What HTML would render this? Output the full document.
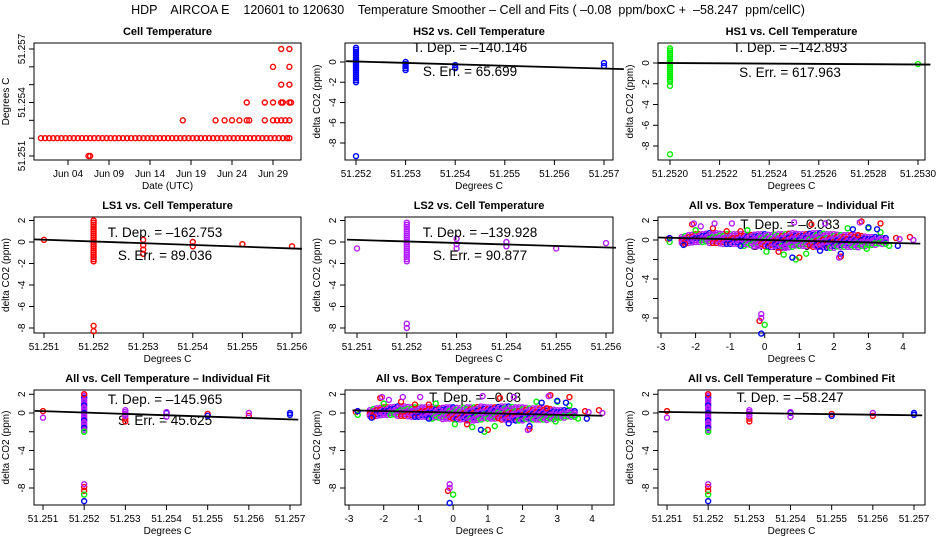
<!DOCTYPE html>
<html><head><meta charset="utf-8"><style>
body{margin:0;background:#fff}
svg{display:block;font-family:"Liberation Sans",sans-serif}
#mt{white-space:pre}
</style></head><body>
<svg id="c" width="936" height="540" viewBox="0 0 936 540">
<rect width="936" height="540" fill="#fff"/>
<text id="mt" x="468" y="14" font-size="12.5" text-anchor="middle" xml:space="preserve">HDP    AIRCOA E    120601 to 120630    Temperature Smoother – Cell and Fits ( –0.08  ppm/boxC +  –58.247  ppm/cellC)</text>
</svg>
<script>
// ---- Panel 1: Cell Temperature ----
const p1BaseDays=[0.7,1.2,1.7,2.2,2.7,3.2,3.7,4.2,4.7,5.2,5.7,6.2,6.7,7.2,7.7,8.2,8.7,9.2,9.7,10.2,10.7,11.2,11.7,12.2,12.7,13.2,13.7,14.2,14.7,15.2,15.7,16.2,16.7,17.2,17.7,18.2,18.7,19.2,19.7,20.2,20.7,21.2,21.7,22.2,22.7,23.2,23.7,24.2,24.7,25.2,25.7,26.2,26.7,27.2,27.7,28.2,28.7,29.2,29.7,30.2,30.7,31.0];
const p1BaseTemp=51.252;
const p1Days=[6.5,6.7,18.0,22.0,23.1,24.0,24.9,25.8,26.1,28.0,29.0,29.5,30.0,30.5,31.0,25.8,28.0,29.0,30.0,30.2,31.0,31.2,30.0,31.0,29.0,31.0,30.0,31.0];
const p1Temp=[51.251,51.251,51.253,51.253,51.253,51.253,51.253,51.253,51.253,51.253,51.253,51.253,51.253,51.253,51.253,51.254,51.254,51.254,51.254,51.254,51.254,51.254,51.255,51.255,51.256,51.256,51.257,51.257];
const p1XTicks=[4,9,14,19,24,29];
const p1XLabels=["Jun 04","Jun 09","Jun 14","Jun 19","Jun 24","Jun 29"];
const colY=[2.0,1.8,1.6,1.4,1.2,1.0,0.8,0.6,0.4,0.2,0,-0.2,-0.4,-0.6,-0.8,-1.0,-1.2,-1.4,-1.6,-1.8];
// ---- HS2 ----
const hs2X=[51.252,51.252,51.252,51.253,51.253,51.253,51.253,51.253,51.254,51.254,51.257,51.257];
const hs2Y=[-1.8,-2.0,-9.3,0,-0.2,-0.4,-0.6,-0.8,-0.3,-0.6,-0.1,-0.4];
const hs2ColX=51.252, hs2ColTop=1.5, hs2Slope=-140.146, hs2Int=0.05;
// ---- HS1 ----
const hs1X=[51.252,51.252,51.253];
const hs1Y=[-2.2,-8.8,-0.1];
const hs1ColX=51.252, hs1ColTop=1.5, hs1Slope=-142.893, hs1Int=0.0;
// ---- LS1 ----
const ls1X=[51.251,51.252,51.252,51.253,51.253,51.253,51.253,51.254,51.254,51.255,51.256];
const ls1Y=[0.2,-7.8,-8.3,0.2,-0.3,-0.7,-1.1,0,-0.4,-0.2,-0.4];
const ls1ColX=51.252, ls1ColTop=2.0, ls1Slope=-162.753, ls1Int=0.05;
// ---- LS2 ----
const ls2X=[51.251,51.252,51.252,51.253,51.253,51.253,51.254,51.254,51.255,51.256];
const ls2Y=[-0.6,-7.6,-8.0,0.3,-0.2,-0.6,0,-0.4,-0.6,-0.1];
const ls2ColX=51.252, ls2ColTop=1.8, ls2Slope=-139.928, ls2Int=0.05;
// ---- Box temperature cloud ----
const bandX=[-2.4,-2.2,-2.0,-1.8,-1.6,-1.4,-1.2,-1.0,-0.8,-0.6,-0.4,-0.2,0,0.2,0.4,0.6,0.8,1.0,1.2,1.4,1.6,1.8,2.0,2.2,2.4,2.6,2.8,3.0,3.2,3.4];
const bandHi=[0.3,0.5,0.6,0.6,0.7,0.7,0.6,0.6,0.6,0.6,0.5,0.6,0.6,0.5,0.6,0.6,0.7,0.6,0.6,0.7,0.7,0.6,0.6,0.5,0.5,0.5,0.4,0.3,0.3,0.2];
const bandLo=[-0.3,-0.3,-0.2,-0.3,-0.3,-0.3,-0.4,-0.4,-0.5,-0.6,-0.6,-0.7,-0.7,-0.8,-0.8,-0.8,-0.7,-0.7,-0.7,-0.7,-0.8,-0.8,-0.8,-0.7,-0.7,-0.8,-0.7,-0.6,-0.5,-0.4];
const boxRedX=[-2.1,-1.5,-0.7,1.35,2.2,2.8,3.35,4.2,-0.15,1.0,0.4,-2.8,-2.3,3.8,2.7,-1.1];
const boxRedY=[1.6,1.2,0.9,1.6,-1.7,1.9,1.7,0.3,-8.3,-1.8,-1.2,0.1,-0.4,0.2,0.5,0.9];
const boxGreenX=[-2.0,-0.5,0.9,2.4,3.0,3.35,3.6,-2.75,0.0,0.55,2.95,0.05,1.2];
const boxGreenY=[1.0,1.0,-2.0,1.2,1.2,0.8,-0.6,-0.2,-8.7,-1.5,-0.9,-1.2,-1.4];
const boxBlueX=[-2.75,-2.35,0.8,2.2,2.55,3.0,3.25,3.85,-0.1,1.6,-0.7];
const boxBlueY=[0.2,-0.5,-1.8,-1.4,1.1,1.3,1.1,-0.6,-9.6,-1.1,-0.6];
const boxMagX=[-2.05,-1.45,-0.95,0.85,1.75,2.15,2.75,3.9,4.3,-0.1,-0.1,-1.85,-0.4];
const boxMagY=[1.7,1.7,1.7,1.8,1.7,-1.8,1.8,0.1,0,-7.6,-8.0,1.4,0.3];
const boxIndSlope=-0.083, boxCombSlope=-0.08;
// ---- All vs cell ----
const cellRedX=[51.251,51.252,51.252,51.252,51.253,51.253,51.255,51.256];
const cellRedY=[0.2,2.0,-7.9,-8.3,-0.9,-0.6,-0.1,-0.3];
const cellGreenX=[51.252,51.252];
const cellGreenY=[-2.0,-8.7];
const cellBlueX=[51.252,51.254,51.255,51.257,51.257];
const cellBlueY=[-9.4,0,-0.3,0,-0.2];
const cellMagX=[51.251,51.252,51.253,51.253,51.253,51.253,51.254,51.254,51.256];
const cellMagY=[-0.5,-7.6,0.3,0.1,-0.1,-0.3,0.1,-0.4,0];
const cellIndSlope=-145.965, cellCombSlope=-58.247;

const NS="http://www.w3.org/2000/svg";
const svg=document.getElementById('c');
const RED="#ff0000",GREEN="#00ee00",BLUE="#0000ff",MAG="#b41cff";
function mk(tag,attrs,parent){const e=document.createElementNS(NS,tag);for(const k in attrs)e.setAttribute(k,attrs[k]);(parent||svg).appendChild(e);return e;}
function lin(v1,p1,v2,p2){return v=>p1+(v-v1)*(p2-p1)/(v2-v1);}

function panel(o){
  const g=mk('g',{});
  
  
  const [x0,y0,x1,y1]=o.box;
  const sx=lin(...o.xs), sy=lin(...o.ys);
  const t=mk('text',{x:(x0+x1)/2,y:y0-8,'font-size':11,'font-weight':'bold','text-anchor':'middle'},g);
  t.textContent=o.title;
  
  
  const fr=mk('rect',{x:x0,y:y0,width:x1-x0,height:y1-y0,fill:'none',stroke:'#000','stroke-width':1},g);
  
  
  o.xticks.forEach((v,i)=>{const px=sx(v);
    const l=mk('line',{x1:px,x2:px,y1:y1,y2:y1+5,stroke:'#000'},g);
    
    
    const tx=mk('text',{x:px,y:y1+17,'font-size':10,'text-anchor':'middle'},g);tx.textContent=o.xlabels[i];
    
    });
  o.yticks.forEach((v,i)=>{const py=sy(v);
    const l=mk('line',{x1:x0-5,x2:x0,y1:py,y2:py,stroke:'#000'},g);
    
    
    if(o.ylabels[i]!==''){const tx=mk('text',{x:x0-9,y:py,'font-size':10,'text-anchor':'middle',transform:`rotate(-90 ${x0-9} ${py})`},g);tx.textContent=o.ylabels[i];
    
    }});
  const xl=mk('text',{x:(x0+x1)/2,y:y1+29,'font-size':10,'text-anchor':'middle'},g);xl.textContent=o.xlab;
  
  
  const yx=x0-25,yy=(y0+y1)/2;
  const yl=mk('text',{x:yx,y:yy,'font-size':10,'text-anchor':'middle',transform:`rotate(-90 ${yx} ${yy})`},g);yl.textContent=o.ylab;
  
  
  return {g,sx,sy};
}
function pt(P,x,y,c){const e=mk('circle',{cx:P.sx(x),cy:P.sy(y),r:2.5,fill:'none',stroke:c,'stroke-width':1.4},P.g);
  
  }
function pts(P,xs,ys,c){xs.forEach((x,i)=>pt(P,x,ys[i],c));}
function column(P,x,top,bottom,cols){colY.forEach((y,i)=>{if(y<=top&&y>=bottom)pt(P,x,y,cols[i%cols.length]);});}
function fit(P,xa,xb,x0,a,b){const e=mk('line',{x1:P.sx(xa),y1:P.sy(a+b*(xa-x0)),x2:P.sx(xb),y2:P.sy(a+b*(xb-x0)),stroke:'#000','stroke-width':1.8},P.g);
  
  }
function note(P,x,y,s){const e=mk('text',{x:x,y:y,'font-size':13.5,'text-anchor':'middle'},P.g);e.textContent=s;
  
  }
function band(P){
  const cols=[MAG,MAG,RED,MAG,BLUE,MAG,MAG,GREEN];
  bandX.forEach((x,i)=>{
    const nx=i<bandX.length-1?bandX[i+1]:x+0.2;
    const hi=i<bandX.length-1?(bandHi[i]+bandHi[i+1])/2:bandHi[i];
    const lo=i<bandX.length-1?(bandLo[i]+bandLo[i+1])/2:bandLo[i];
    let k=0;
    for(let y=bandHi[i];y>=bandLo[i]-1e-9;y-=0.2){pt(P,x,y,cols[(i+k)%cols.length]);k++;}
    for(let y=hi;y>=lo-1e-9;y-=0.2){pt(P,(x+nx)/2,y,cols[(i+k+3)%cols.length]);k++;}
  });
  pts(P,boxRedX,boxRedY,RED);pts(P,boxGreenX,boxGreenY,GREEN);pts(P,boxBlueX,boxBlueY,BLUE);pts(P,boxMagX,boxMagY,MAG);}

const cellTicks=[51.251,51.252,51.253,51.254,51.255,51.256,51.257];
const cellLabels=["51.251","51.252","51.253","51.254","51.255","51.256","51.257"];
const dY=[2,0,-2,-4,-6,-8], dYL=["2","0","","-4","","-8"];
const dY1=[0,-2,-4,-6,-8], dY1L=["0","-2","-4","-6","-8"];
const boxT=[-3,-2,-1,0,1,2,3,4], boxTL=["-3","-2","-1","0","1","2","3","4"];

let P=panel({name:'cell-temperature-panel',box:[34,43,301,160],xs:[4,68,29,273],ys:[51.251,156,51.257,49],
 xticks:p1XTicks,xlabels:p1XLabels,yticks:[51.251,51.252,51.253,51.254,51.255,51.256,51.257],ylabels:["51.251","","","51.254","","","51.257"],
 title:'Cell Temperature',xlab:'Date (UTC)',ylab:'Degrees C'});
p1BaseDays.forEach(d=>pt(P,d,p1BaseTemp,RED));
pts(P,p1Days,p1Temp,RED);

P=panel({name:'hs2-panel',box:[345,43,613,160],xs:[51.252,356,51.257,604],ys:[0,62,-8,143],
 xticks:[51.252,51.253,51.254,51.255,51.256,51.257],xlabels:["51.252","51.253","51.254","51.255","51.256","51.257"],yticks:dY1,ylabels:dY1L,
 title:'HS2 vs. Cell Temperature',xlab:'Degrees C',ylab:'delta CO2 (ppm)'});
column(P,hs2ColX,hs2ColTop,-1.6,[BLUE]);pts(P,hs2X,hs2Y,BLUE);
fit(P,51.2518,51.2574,51.252,hs2Int,hs2Slope);
note(P,470,52,'T. Dep. =  –140.146');note(P,470,76,'S. Err. =  65.699');

P=panel({name:'hs1-panel',box:[658,43,925,160],xs:[51.252,670,51.253,918],ys:[0,63,-8,146],
 xticks:[51.252,51.2522,51.2524,51.2526,51.2528,51.253],xlabels:["51.2520","51.2522","51.2524","51.2526","51.2528","51.2530"],yticks:dY1,ylabels:dY1L,
 title:'HS1 vs. Cell Temperature',xlab:'Degrees C',ylab:'delta CO2 (ppm)'});
column(P,hs1ColX,hs1ColTop,-1.8,[GREEN]);pts(P,hs1X,hs1Y,GREEN);
fit(P,51.25195,51.25305,51.252,hs1Int,hs1Slope);
note(P,790,52,'T. Dep. =  –142.893');note(P,790,77,'S. Err. =  617.963');

P=panel({name:'ls1-panel',box:[34,217,301,333],xs:[51.251,44,51.256,292],ys:[0,242,-8,328],
 xticks:[51.251,51.252,51.253,51.254,51.255,51.256],xlabels:["51.251","51.252","51.253","51.254","51.255","51.256"],yticks:dY,ylabels:["2","0","-2","-4","-6","-8"],
 title:'LS1 vs. Cell Temperature',xlab:'Degrees C',ylab:'delta CO2 (ppm)'});
column(P,ls1ColX,ls1ColTop,-1.8,[RED]);pts(P,ls1X,ls1Y,RED);
fit(P,51.2508,51.2562,51.252,ls1Int,ls1Slope);
note(P,165,237,'T. Dep. =  –162.753');note(P,165,260,'S. Err. =  89.036');

P=panel({name:'ls2-panel',box:[345,217,613,333],xs:[51.251,357,51.256,606],ys:[0,242,-8,328],
 xticks:[51.251,51.252,51.253,51.254,51.255,51.256],xlabels:["51.251","51.252","51.253","51.254","51.255","51.256"],yticks:dY,ylabels:["2","0","-2","-4","-6","-8"],
 title:'LS2 vs. Cell Temperature',xlab:'Degrees C',ylab:'delta CO2 (ppm)'});
column(P,ls2ColX,ls2ColTop,-1.8,[MAG]);pts(P,ls2X,ls2Y,MAG);
fit(P,51.2508,51.2562,51.252,ls2Int,ls2Slope);
note(P,480,237,'T. Dep. =  –139.928');note(P,480,260,'S. Err. =  90.877');

P=panel({name:'box-individual-fit-panel',box:[658,217,925,333],xs:[-3,661,4,903],ys:[0,240,-8,318],
 xticks:boxT,xlabels:boxTL,yticks:dY,ylabels:dYL,
 title:'All vs. Box Temperature – Individual Fit',xlab:'Degrees C',ylab:'delta CO2 (ppm)'});
note(P,790,229,'T. Dep. =  –0.083');note(P,790,250,'S. Err. =  0.04');
band(P);fit(P,-3.1,4.5,0,0,boxIndSlope);

P=panel({name:'cell-individual-fit-panel',box:[34,390,301,505],xs:[51.251,43,51.257,290],ys:[0,413,-8,488],
 xticks:cellTicks,xlabels:cellLabels,yticks:dY,ylabels:dYL,
 title:'All vs. Cell Temperature – Individual Fit',xlab:'Degrees C',ylab:'delta CO2 (ppm)'});
note(P,165,404,'T. Dep. =  –145.965');note(P,165,425,'S. Err. =  45.625');
column(P,51.252,2.0,-1.8,[MAG,MAG,BLUE,MAG]);
pts(P,cellRedX,cellRedY,RED);pts(P,cellGreenX,cellGreenY,GREEN);pts(P,cellBlueX,cellBlueY,BLUE);pts(P,cellMagX,cellMagY,MAG);
fit(P,51.2508,51.2572,51.252,0.05,cellIndSlope);

P=panel({name:'box-combined-fit-panel',box:[345,390,614,505],xs:[-3,349,4,592],ys:[0,413,-8,488],
 xticks:boxT,xlabels:boxTL,yticks:dY,ylabels:dYL,
 title:'All vs. Box Temperature – Combined Fit',xlab:'Degrees C',ylab:'delta CO2 (ppm)'});
note(P,475,402,'T. Dep. =  –0.08');
band(P);fit(P,-2.9,4.3,0,0.05,boxCombSlope);

P=panel({name:'cell-combined-fit-panel',box:[658,390,925,505],xs:[51.251,667,51.257,914],ys:[0,413,-8,488],
 xticks:cellTicks,xlabels:cellLabels,yticks:dY,ylabels:dYL,
 title:'All vs. Cell Temperature – Combined Fit',xlab:'Degrees C',ylab:'delta CO2 (ppm)'});
note(P,790,402,'T. Dep. =  –58.247');
column(P,51.252,2.0,-1.8,[MAG,MAG,BLUE,MAG]);
pts(P,cellRedX,cellRedY,RED);pts(P,cellGreenX,cellGreenY,GREEN);pts(P,cellBlueX,cellBlueY,BLUE);pts(P,cellMagX,cellMagY,MAG);
fit(P,51.2508,51.2572,51.252,0.05,cellCombSlope);
</script>
</body></html>
